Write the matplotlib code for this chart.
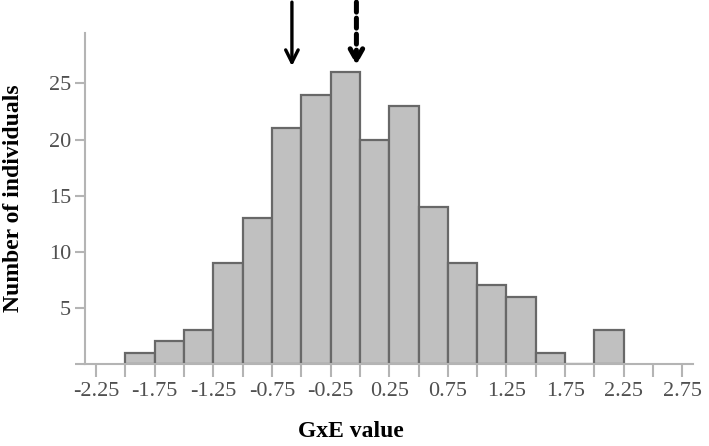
import numpy as np
import matplotlib.pyplot as plt

# histogram of GxE values, bins of width 0.25
bin_left = [-2.0, -1.75, -1.5, -1.25, -1.0, -0.75, -0.5, -0.25, 0.0, 0.25,
            0.5, 0.75, 1.0, 1.25, 1.5, 1.75, 2.0]
counts = [1, 2, 3, 9, 13, 21, 24, 26, 20, 23, 14, 9, 7, 6, 1, 0, 3]
bin_width = 0.25

xticks = [-2.25, -2.0, -1.75, -1.5, -1.25, -1.0, -0.75, -0.5, -0.25, 0.0, 0.25,
          0.5, 0.75, 1.0, 1.25, 1.5, 1.75, 2.0, 2.25, 2.5, 2.75]
xlabels = ['-2.25', '', '-1.75', '', '-1.25', '', '-0.75', '', '-0.25', '', '0.25',
           '', '0.75', '', '1.25', '', '1.75', '', '2.25', '', '2.75']
yticks = [0, 5, 10, 15, 20, 25]
ylabels = ['', '5', '10', '15', '20', '25']

# arrow positions (x value of marker)
arrow_solid_x = -0.58
arrow_dashed_x = -0.03

plt.rcParams['font.family'] = ['Liberation Serif', 'DejaVu Serif']

fig = plt.figure(figsize=(7.09, 4.46), dpi=100)
ax = fig.add_axes([0.12, 0.184, 0.858, 0.742])

ax.bar(bin_left, counts, width=bin_width, align='edge', color='#c0c0c0',
       edgecolor='#686868', linewidth=1.6)

ax.set_xlim(-2.344, 2.844)
ax.set_ylim(0, 29.5)
for s in ['top', 'right']:
    ax.spines[s].set_visible(False)
for s in ['left', 'bottom']:
    ax.spines[s].set_color('#b4b4b4')
    ax.spines[s].set_linewidth(1.5)

ax.set_xticks(xticks)
ax.set_xticklabels(xlabels)
ax.set_yticks(yticks)
ax.set_yticklabels(ylabels)
ax.tick_params(axis='x', length=9, width=1.5, color='#b4b4b4', pad=4,
               labelsize=16, labelcolor='#505050')
ax.tick_params(axis='y', length=7, width=1.5, color='#b4b4b4', pad=3,
               labelsize=16, labelcolor='#505050')

ax.set_ylabel('Number of individuals', fontsize=17, fontweight='bold')
ax.set_xlabel('GxE value', fontsize=17, fontweight='bold')
ax.xaxis.set_label_coords(0.4375, -0.172)
ax.yaxis.set_label_coords(-0.1, 0.5)

ax.annotate('', xy=(arrow_solid_x, 26.3), xytext=(arrow_solid_x, 32.5),
            annotation_clip=False,
            arrowprops=dict(arrowstyle='->,head_length=0.9,head_width=0.45',
                            color='black', lw=2.4))
ax.annotate('', xy=(arrow_dashed_x, 26.4), xytext=(arrow_dashed_x, 32.5),
            annotation_clip=False,
            arrowprops=dict(arrowstyle='->,head_length=0.8,head_width=0.45',
                            color='black', lw=3.6, linestyle=(0, (2, 1.2))))

fig.savefig('out.png', dpi=100)
